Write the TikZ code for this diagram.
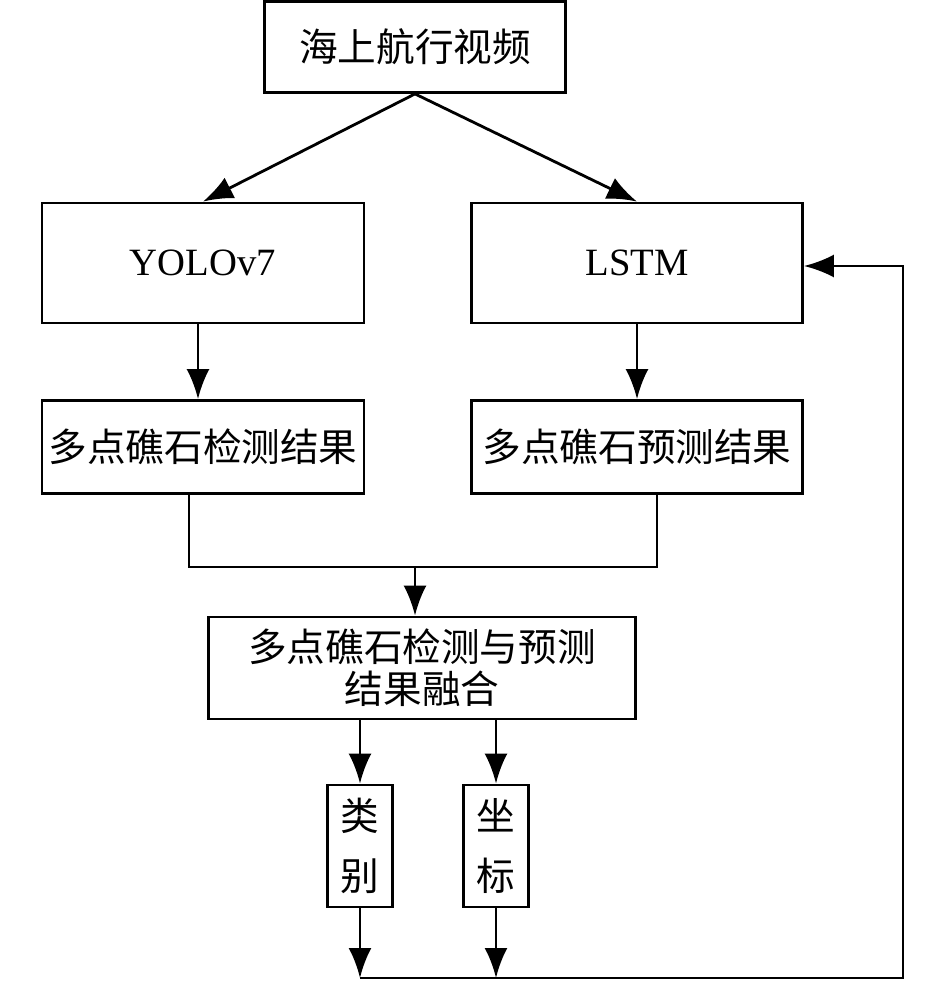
\documentclass[tikz,border=0pt]{standalone}
\usepackage{fontspec}
\setmainfont{Liberation Serif}
\newfontfamily\cjk{Noto Sans CJK SC}
\usepackage{tikz}
\usetikzlibrary{arrows.meta,positioning}

\begin{document}
\begin{tikzpicture}[x=0.02cm,y=-0.02cm,line width=1.6pt,
    >={Latex[length=0.6cm,width=0.46cm]},
    box/.style={draw,rectangle,inner sep=0pt,align=center,
      font=\cjk\fontsize{22}{24}\selectfont},
    tall/.style={box,minimum width=1.3cm,minimum height=2.44cm,
      font=\cjk\fontsize{22}{34}\selectfont}]
  \useasboundingbox (0,0) rectangle (945,983);

  \node[box,minimum width=6.02cm,minimum height=1.82cm] (video) at (415,47) {海上航行视频};
  \node[box,minimum width=6.44cm,minimum height=2.4cm,font=\fontsize{22}{24}\selectfont] (yolo) at (203,263) {YOLOv7};
  \node[box,minimum width=6.62cm,minimum height=2.4cm,font=\fontsize{22}{24}\selectfont] (lstm) at (637,263) {LSTM};
  \node[box,minimum width=6.44cm,minimum height=1.86cm] (det) at (203,447) {多点礁石检测结果};
  \node[box,minimum width=6.62cm,minimum height=1.86cm] (pred) at (637,447) {多点礁石预测结果};
  \node[box,minimum width=8.54cm,minimum height=2.04cm] (fuse) at (422,668) {多点礁石检测与预测\\结果融合};
  \node[tall] (cls) at (360,846) {类\\别};
  \node[tall] (coord) at (496,846) {坐\\标};

  \coordinate (mrg) at (415,567);
  \coordinate (b1) at (360,978);
  \coordinate (b2) at (496,978);
  \coordinate (corner) at (903,978);

  \path [->]
        (video.south) edge (yolo.north)
        (video.south) edge (lstm.north)
        ([xshift=-0.1cm]yolo.south) edge ([xshift=-0.1cm]det.north)
        (lstm) edge (pred)
        (fuse.south -| cls) edge (cls.north)
        (fuse.south -| coord) edge (coord.north)
        (cls) edge (b1)
        (coord) edge (b2);

  \draw ([xshift=-0.28cm]det.south) |- (mrg) -| ([xshift=0.4cm]pred.south);
  \draw[->] (mrg) -- (mrg |- fuse.north);
  \draw[->] (b1) -- (corner) |- ([yshift=-0.06cm]lstm.east);
\end{tikzpicture}
\end{document}
